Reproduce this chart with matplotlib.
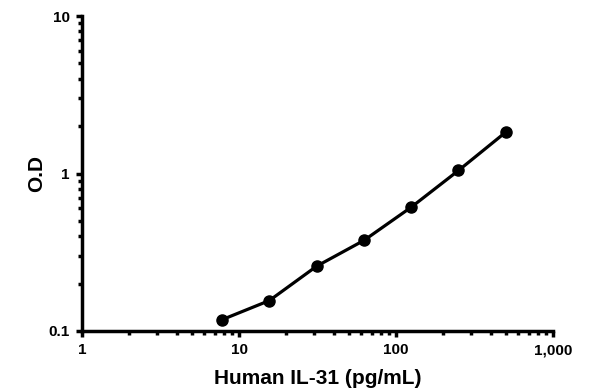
import matplotlib
matplotlib.use("Agg")
import matplotlib.pyplot as plt
from matplotlib.ticker import FixedLocator, FixedFormatter, LogLocator, NullFormatter

conc = [7.8, 15.6, 31.25, 62.5, 125, 250, 500]
od = [0.118, 0.156, 0.258, 0.376, 0.611, 1.045, 1.83]
x_ticks = [1, 10, 100, 1000]
x_labels = ["1", "10", "100", "1,000"]
y_ticks = [0.1, 1, 10]
y_labels = ["0.1", "1", "10"]

plt.rcParams['font.family'] = ['Liberation Sans', 'DejaVu Sans']
plt.rcParams['font.weight'] = 'bold'

fig = plt.figure(figsize=(5.96, 3.92), dpi=100)
ax = fig.add_axes([82/596, 1-331/392, (553-82)/596, (331-16)/392])
ax.plot(conc, od, color='black', lw=2.3, marker='o', markersize=8, clip_on=False)
ax.set_xscale('log')
ax.set_yscale('log')
ax.set_xlim(1, 1000)
ax.set_ylim(0.1, 10)
ax.xaxis.set_major_locator(FixedLocator(x_ticks))
ax.xaxis.set_major_formatter(FixedFormatter(x_labels))
ax.yaxis.set_major_locator(FixedLocator(y_ticks))
ax.yaxis.set_major_formatter(FixedFormatter(y_labels))
ax.xaxis.set_minor_locator(LogLocator(base=10, subs=range(2, 10)))
ax.yaxis.set_minor_locator(LogLocator(base=10, subs=range(2, 10)))
ax.xaxis.set_minor_formatter(NullFormatter())
ax.yaxis.set_minor_formatter(NullFormatter())
for s in ['top', 'right']:
    ax.spines[s].set_visible(False)
for s in ['left', 'bottom']:
    ax.spines[s].set_linewidth(2.5)
ax.tick_params(which='major', direction='out', length=4, width=2.5, labelsize=11, pad=5)
ax.tick_params(which='minor', direction='out', length=3, width=2.5)
for lab in ax.get_xticklabels() + ax.get_yticklabels():
    lab.set_fontweight('bold')
ax.set_xlabel("Human IL-31 (pg/mL)", fontsize=15, fontweight='bold', labelpad=8.5)
ax.set_ylabel("O.D", fontsize=15, fontweight='bold', labelpad=1.5)
fig.savefig("out.png", dpi=100)
